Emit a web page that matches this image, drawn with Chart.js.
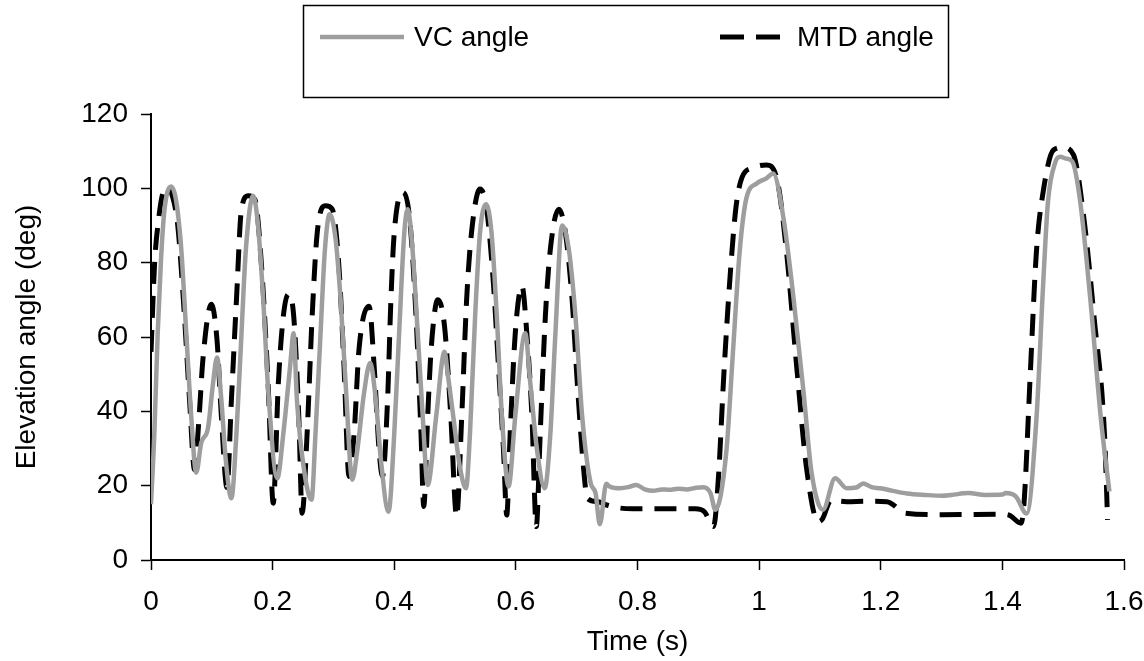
<!DOCTYPE html>
<html lang="en">
<head>
  <meta charset="UTF-8">
  <meta name="viewport" content="width=device-width, initial-scale=1.0">
  <title>Elevation angle</title>
  <style>
    body { margin: 0; background: #fff; }
    .contenedor { width: 1144px; height: 661px; }
  </style>
</head>
<body>

  <div class="contenedor">
    <canvas id="grafico"></canvas>
  </div>

  <!-- ChartJS -->
  <script src="https://cdn.jsdelivr.net/npm/chart.js"></script>

  <script>
    // Datos (tiempo en s, angulo en grados)
    const series = ["VC angle", "MTD angle"];

    const tiempoVC = [
      0, 0.0055, 0.011, 0.0165, 0.022, 0.033, 0.041, 0.0496, 0.058, 0.066,
      0.0744, 0.0826, 0.0937, 0.102, 0.1085, 0.1157, 0.1229, 0.1322, 0.1405, 0.1488,
      0.156, 0.168, 0.176, 0.1846, 0.193, 0.2077, 0.2176, 0.2287, 0.2345, 0.24,
      0.251, 0.264, 0.2705, 0.2788, 0.286, 0.2937, 0.3036, 0.3118, 0.32, 0.331,
      0.3394, 0.3504, 0.3603, 0.3697, 0.378, 0.3906, 0.4, 0.408, 0.4165, 0.422,
      0.43, 0.4386, 0.4468, 0.455, 0.469, 0.4826, 0.488, 0.497, 0.508, 0.518,
      0.5245, 0.533, 0.541, 0.551, 0.56, 0.5686, 0.577, 0.588, 0.599, 0.6154,
      0.6237, 0.6347, 0.6474, 0.6567, 0.665, 0.676, 0.687, 0.698, 0.709, 0.723,
      0.731, 0.738, 0.7487, 0.754, 0.771, 0.785, 0.798, 0.812, 0.826, 0.84,
      0.853, 0.867, 0.881, 0.895, 0.9085, 0.92, 0.928, 0.946, 0.957, 0.968,
      0.979, 0.996, 1.012, 1.023, 1.04, 1.056, 1.073, 1.086, 1.105, 1.125,
      1.144, 1.16, 1.171, 1.185, 1.199, 1.22, 1.243, 1.274, 1.3, 1.316,
      1.344, 1.372, 1.4, 1.4056, 1.422, 1.44, 1.456, 1.467, 1.475, 1.487,
      1.495, 1.505, 1.515, 1.528, 1.545, 1.562, 1.576
    ];
    const anguloVC = [
      15, 34, 61, 81, 94, 100.5, 97, 84, 61, 39,
      23.5, 31.5, 35.5, 47.5, 54.5, 43, 27, 16.6, 34, 61,
      83.5, 98, 90, 70, 45, 22, 34, 52, 61, 43,
      25, 16.2, 34, 61, 83.5, 93, 86.3, 70, 47.6, 21.6,
      29.7, 45, 53, 43, 27, 13, 34, 61, 88, 94.4,
      83.6, 61, 38.7, 20.2, 38.7, 56, 50, 38.7, 25, 19.3,
      34, 65.6, 88, 95.7, 88, 65.6, 38.7, 19.8, 38.7, 61,
      47.6, 29.7, 19.3, 34, 61, 90, 83.6, 65.6, 38.7, 20.7,
      18, 9.6, 20.5, 19.8, 19.3, 19.6, 20.2, 19, 18.6, 19,
      18.9, 19.2, 19, 19.4, 19.6, 18, 13.5, 29, 56, 83,
      97.3, 101.3, 102.7, 104, 92, 71.3, 45.3, 23.8, 13.5, 22,
      19.3, 19.5, 20.6, 19.6, 19.3, 18.6, 17.9, 17.5, 17.3, 17.5,
      18, 17.5, 17.6, 18, 17.1, 12.5, 38, 74, 96.4, 107,
      108.5, 108, 107.2, 96.4, 69.5, 38, 18.4
    ];

    const tiempoMTD = [
      0, 0.006, 0.012, 0.02, 0.027, 0.035, 0.044, 0.055, 0.0634, 0.0716,
      0.0788, 0.0854, 0.0992, 0.1085, 0.1157, 0.125, 0.1322, 0.1405, 0.1488, 0.16,
      0.1708, 0.1818, 0.193, 0.201, 0.2094, 0.2176, 0.226, 0.2347, 0.243, 0.2485,
      0.2567, 0.265, 0.2733, 0.287, 0.298, 0.309, 0.3174, 0.3256, 0.334, 0.342,
      0.3587, 0.367, 0.375, 0.3807, 0.389, 0.3945, 0.4, 0.4138, 0.4248, 0.4358,
      0.444, 0.4485, 0.455, 0.4606, 0.4716, 0.4826, 0.493, 0.5025, 0.511, 0.519,
      0.527, 0.541, 0.552, 0.563, 0.5714, 0.5796, 0.585, 0.5906, 0.599, 0.61,
      0.618, 0.6264, 0.6336, 0.64, 0.6485, 0.6567, 0.6705, 0.6815, 0.6925, 0.701,
      0.712, 0.7174, 0.735, 0.749, 0.77, 0.793, 0.85, 0.895, 0.91, 0.925,
      0.933, 0.942, 0.953, 0.962, 0.972, 0.99, 1.012, 1.029, 1.045, 1.062,
      1.078, 1.097, 1.104, 1.118, 1.144, 1.177, 1.21, 1.241, 1.3, 1.4,
      1.411, 1.4307, 1.436, 1.445, 1.456, 1.467, 1.484, 1.5, 1.517, 1.534,
      1.551, 1.568, 1.573
    ];
    const anguloMTD = [
      56, 80, 91, 99, 100.2, 98, 90, 65.6, 43, 24.3,
      37.8, 54, 68.8, 59.3, 38.7, 19.5, 43, 70, 94.4, 98,
      97, 79, 45.8, 15.3, 47.6, 65.6, 71.5, 65.6, 38.7, 12.6,
      34, 65.6, 88, 95.3, 94.4, 79, 52, 22.5, 34, 56.6,
      68.3, 52, 29.7, 22.5, 43, 70, 88, 98.9, 92.6, 65.6,
      34, 14.4, 38.7, 56.6, 70, 63, 38.7, 11.7, 38.7, 70,
      88, 99.8, 94.4, 74.6, 52, 29.7, 12.1, 34, 61, 73.7,
      61, 38.7, 9, 34, 65.6, 83.6, 94.4, 88, 70, 47.6,
      23.4, 16.6, 15.7, 14.8, 14, 13.8, 13.8, 13.8, 13, 9,
      22, 50, 78, 95, 103, 105.5, 106.3, 102.7, 83, 51.6,
      24.7, 10.3, 11, 16, 15.7, 15.8, 15.7, 12.6, 12.2, 12.3,
      12.1, 9.9, 16.2, 47, 83, 99, 110.3, 111, 109, 92,
      65, 33.6, 10.8
    ];

    const ticksX = [0, 0.2, 0.4, 0.6, 0.8, 1, 1.2, 1.4, 1.6];
    const ticksY = [0, 20, 40, 60, 80, 100, 120];

    const colorVC = "#9e9e9e";
    const colorMTD = "#000000";
    const fuente = "Liberation Sans, Arial, sans-serif";

    // Leyenda con recuadro, como en la figura original
    const cajaLeyenda = {
      id: "cajaLeyenda",
      afterDraw(chart) {
        const ctx = chart.ctx;
        ctx.save();
        ctx.strokeStyle = "#000";
        ctx.lineWidth = 1.5;
        ctx.strokeRect(303.5, 5.5, 645, 92);

        ctx.lineWidth = 4.5;
        ctx.strokeStyle = colorVC;
        ctx.beginPath();
        ctx.moveTo(320, 37);
        ctx.lineTo(404, 37);
        ctx.stroke();

        ctx.lineWidth = 5;
        ctx.strokeStyle = colorMTD;
        ctx.setLineDash([24, 12]);
        ctx.beginPath();
        ctx.moveTo(720, 37);
        ctx.lineTo(783, 37);
        ctx.stroke();
        ctx.setLineDash([]);

        ctx.fillStyle = "#000";
        ctx.font = "28px " + fuente;
        ctx.textBaseline = "middle";
        ctx.fillText(series[0], 414, 38);
        ctx.fillText(series[1], 797, 38);
        ctx.restore();
      }
    };

    document.addEventListener("DOMContentLoaded", () => {
      const lienzo = document.getElementById("grafico");

      const datosVC = tiempoVC.map((t, i) => ({ x: t, y: anguloVC[i] }));
      const datosMTD = tiempoMTD.map((t, i) => ({ x: t, y: anguloMTD[i] }));

      const grafico = new Chart(lienzo, {
        type: "line",
        data: {
          datasets: [
            {
              label: series[0],
              data: datosVC,
              borderColor: colorVC,
              borderWidth: 4.5,
              pointRadius: 0,
              cubicInterpolationMode: "monotone"
            },
            {
              label: series[1],
              data: datosMTD,
              borderColor: colorMTD,
              borderWidth: 5,
              borderDash: [22, 12],
              pointRadius: 0,
              cubicInterpolationMode: "monotone"
            }
          ]
        },
        options: {
          responsive: true,
          maintainAspectRatio: false,
          animation: false,
          layout: {
            padding: { top: 114, right: 0, left: 0, bottom: 0 }
          },
          plugins: {
            legend: { display: false },
            tooltip: { enabled: false }
          },
          scales: {
            x: {
              type: "linear",
              min: 0,
              max: 1.6,
              afterBuildTicks: (eje) => { eje.ticks = ticksX.map(v => ({ value: v })); },
              afterFit: (eje) => {
                eje.height = 101;
                // el ultimo rotulo (1.6) solo necesita un poco de margen
                eje.paddingRight = 20;
              },
              border: { display: true, color: "#000", width: 2 },
              grid: { drawOnChartArea: false, drawTicks: true, tickLength: 10, tickColor: "#000", tickWidth: 1.5 },
              ticks: {
                color: "#000",
                padding: 15,
                maxRotation: 0,
                font: { family: fuente, size: 28 },
                callback: (v) => String(v)
              },
              title: {
                display: true,
                text: "Time (s)",
                color: "#000",
                font: { family: fuente, size: 28 },
                padding: { top: 0, bottom: 2 }
              }
            },
            y: {
              min: 0,
              max: 120,
              afterBuildTicks: (eje) => { eje.ticks = ticksY.map(v => ({ value: v })); },
              afterFit: (eje) => { eje.width = 151; },
              border: { display: true, color: "#000", width: 2 },
              grid: { drawOnChartArea: false, drawTicks: true, tickLength: 10, tickColor: "#000", tickWidth: 1.5 },
              ticks: {
                color: "#000",
                padding: 13,
                font: { family: fuente, size: 28 },
                callback: (v) => String(v)
              },
              title: {
                display: true,
                text: "Elevation angle (deg)",
                color: "#000",
                font: { family: fuente, size: 28 },
                padding: { top: 10, bottom: 0 }
              }
            }
          }
        },
        plugins: [cajaLeyenda]
      });
    });
  </script>
</body>
</html>
